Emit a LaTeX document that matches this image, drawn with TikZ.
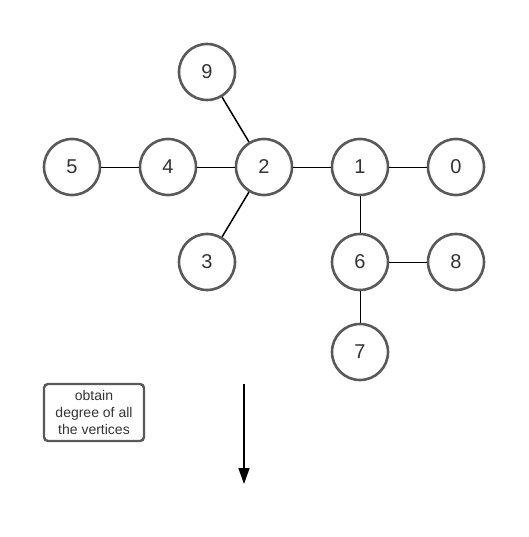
\documentclass[tikz,border=0pt]{standalone}
\usepackage{fontspec}
\setmainfont{Liberation Sans}
\usetikzlibrary{arrows.meta}
\definecolor{bord}{HTML}{595959}
\definecolor{txt}{HTML}{333333}
\begin{document}
\begin{tikzpicture}[x=1pt,y=-1pt,
  vtx/.style={circle,draw=bord,line width=2.6pt,fill=white,minimum size=56pt,inner sep=0pt,text=txt,font=\fontsize{20}{20}\selectfont},
  edge/.style={draw=black,line width=0.9pt},
  dedge/.style={draw=black,line width=1.5pt},
  lbl/.style={draw=bord,line width=2.4pt,rounded corners=4pt,minimum width=100pt,minimum height=57pt,inner sep=1pt,align=center,text=txt,font=\fontsize{14}{17}\selectfont}]
\useasboundingbox (0,0) rectangle (528,537);
\node[vtx] (n9) at (207,72) {9};
\node[vtx] (n5) at (72,167) {5};
\node[vtx] (n4) at (168,167) {4};
\node[vtx] (n2) at (264,167) {2};
\node[vtx] (n1) at (360,167) {1};
\node[vtx] (n0) at (456,167) {0};
\node[vtx] (n3) at (207,262) {3};
\node[vtx] (n6) at (360,262) {6};
\node[vtx] (n8) at (456,262) {8};
\node[vtx] (n7) at (360,352) {7};
\draw[edge] (n5) -- (n4);
\draw[edge] (n4) -- (n2);
\draw[edge] (n2) -- (n1);
\draw[edge] (n1) -- (n0);
\draw[edge] (n1) -- (n6);
\draw[edge] (n6) -- (n8);
\draw[edge] (n6) -- (n7);
\draw[dedge] (n9) -- (n2);
\draw[dedge] (n2) -- (n3);
\node[lbl] (box) at (94,412.5) {obtain\\degree of all\\the vertices};
\coordinate (a1) at (244,384);
\coordinate (a2) at (244,484);
\draw[line width=1.5pt,-{Triangle[length=16pt,width=11pt]}] (a1) -- (a2);
\end{tikzpicture}
\end{document}
